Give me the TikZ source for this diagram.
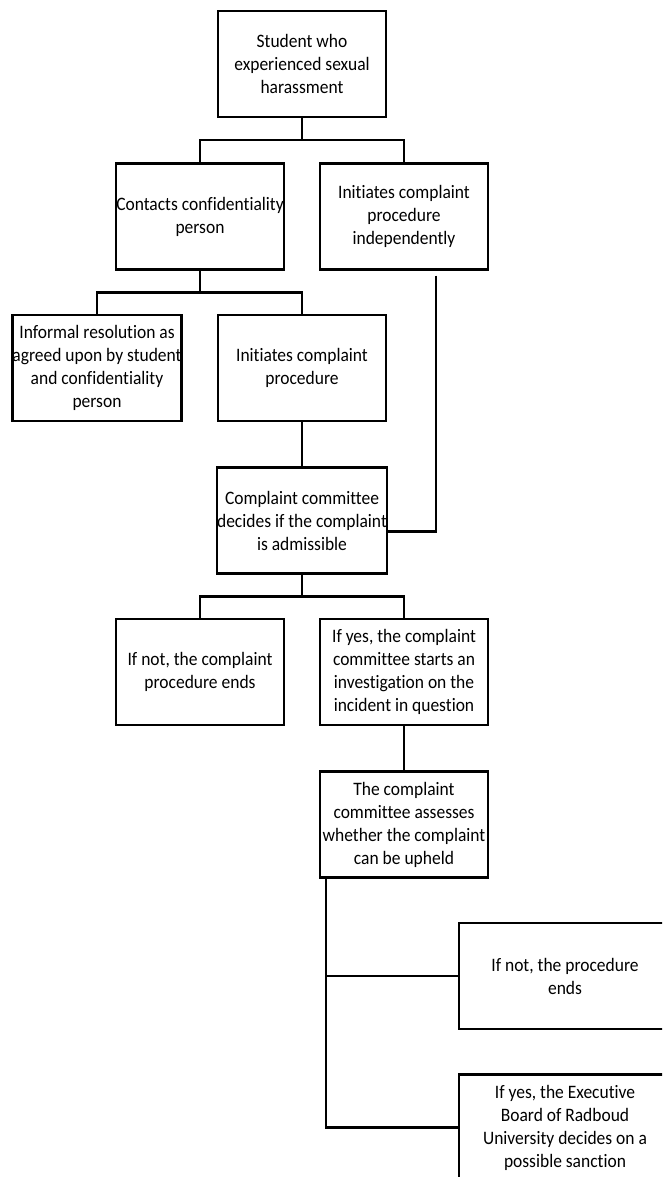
\documentclass[tikz,border=0pt]{standalone}
\usepackage{fontspec}
\setmainfont{Carlito}[FakeStretch=0.92, Ligatures=NoCommon]
\usetikzlibrary{positioning}

\begin{document}
\begin{tikzpicture}[x=1pt, y=-1pt,
    box/.style={draw, line width=2.4pt, minimum width=168pt, minimum height=106pt,
      align=center, inner sep=0pt, font=\fontsize{19}{23}\selectfont},
    widebox/.style={box, minimum width=212pt},
    link/.style={line width=2.6pt}]
  \clip (0,0) rectangle (662,1177);
  \fill[white] (0,0) rectangle (662,1177);

  % top level
  \node[box] (student) at (302,64) {Student who\\experienced sexual\\harassment};
  \node[box] (contact) at (200,216.5) {Contacts confidentiality\\person};
  \node[box] (indep) at (404,216.5) {Initiates complaint\\procedure\\independently};

  % after the confidentiality person
  \node[box] (informal) at (97,368) {Informal resolution as\\agreed upon by student\\and confidentiality\\person};
  \node[box] (initiate) at (302,368) {Initiates complaint\\procedure};

  % complaint committee
  \node[box] (admiss) at (302,520.5) {Complaint committee\\decides if the complaint\\is admissible};
  \node[box] (notadm) at (200,672) {If not, the complaint\\procedure ends};
  \node[box] (yesinv) at (404,672) {If yes, the complaint\\committee starts an\\investigation on the\\incident in question};
  \node[box] (assess) at (404,824.5) {The complaint\\committee assesses\\whether the complaint\\can be upheld};

  % outcome (cut off at the right)
  \node[widebox] (noproc) at (565,976) {If not, the procedure\\ends};
  \node[widebox] (sanction) at (565,1127.5) {If yes, the Executive\\Board of Radboud\\University decides on a\\possible sanction};

  % connectors
  \draw[link] (student.south) -- ++(0,22) -| (contact.north);
  \draw[link] (student.south) ++(0,22) -| (indep.north);
  \draw[link] (contact.south) -- ++(0,22) -| (informal.north);
  \draw[link] (contact.south) ++(0,22) -| (initiate.north);
  \draw[link] (initiate.south) -- (admiss.north);

  \coordinate (indepfoot) at ([xshift=32pt,yshift=-5pt]indep.south);
  \draw[link] (indepfoot) |- ([yshift=-11pt]admiss.east);

  \draw[link] (admiss.south) -- ++(0,22) -| (notadm.north);
  \draw[link] (admiss.south) ++(0,22) -| (yesinv.north);
  \draw[link] (yesinv.south) -- (assess.north);

  \coordinate (trunk) at ([xshift=-78pt]assess.south);
  \draw[link] (trunk) |- (noproc.west);
  \draw[link] (trunk) |- (sanction.west);
\end{tikzpicture}
\end{document}
